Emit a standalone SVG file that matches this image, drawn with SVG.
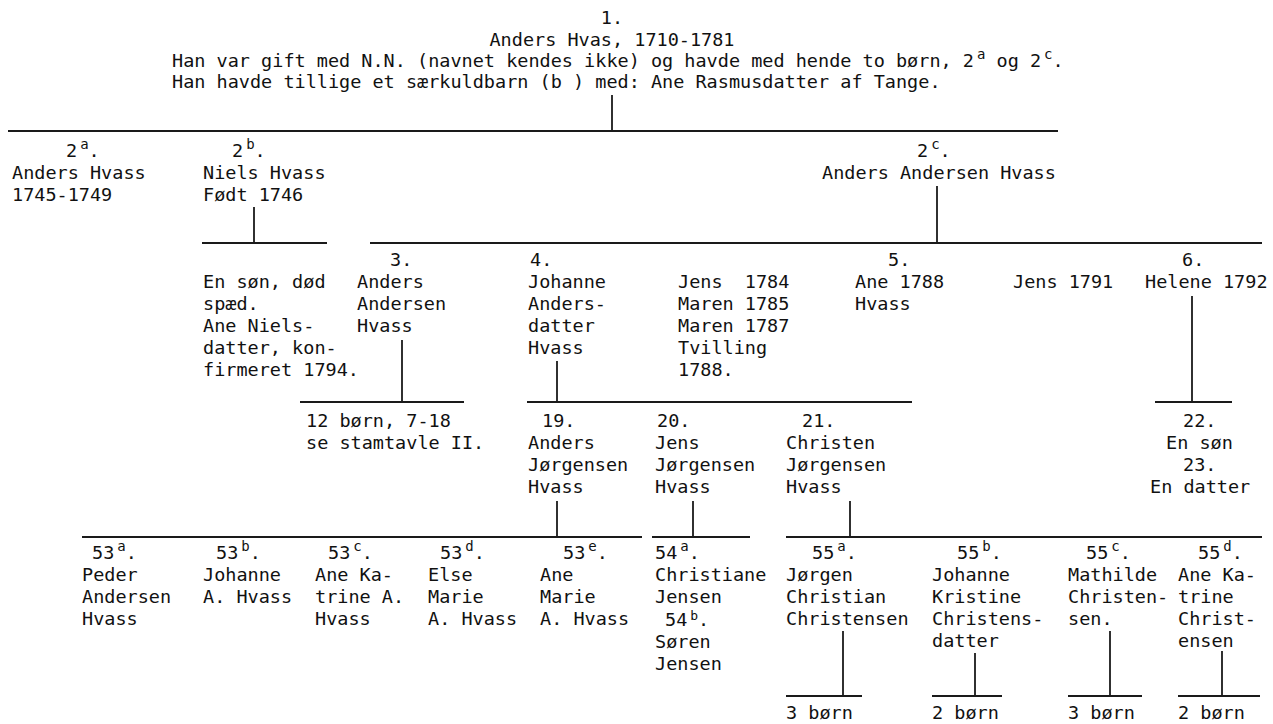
<svg xmlns="http://www.w3.org/2000/svg" width="1273" height="724" viewBox="0 0 1273 724">
<style>
text{font-family:"DejaVu Sans Mono","Liberation Mono",monospace;font-size:18.5px;fill:#111;white-space:pre}
.s{font-size:14px}
.s2{font-size:13px}
#connectors line{stroke:#1a1a1a;stroke-width:1.8}
</style>
<rect width="1273" height="724" fill="#fff"/>
<g id="connectors">
<line x1="612" y1="95" x2="612" y2="131"/>
<line x1="8" y1="131" x2="1058" y2="131"/>
<line x1="254" y1="207" x2="254" y2="243"/>
<line x1="202" y1="243" x2="327" y2="243"/>
<line x1="937" y1="186" x2="937" y2="243"/>
<line x1="370" y1="243" x2="1262" y2="243"/>
<line x1="402" y1="340" x2="402" y2="402"/>
<line x1="300" y1="402" x2="464" y2="402"/>
<line x1="557" y1="361" x2="557" y2="402"/>
<line x1="527" y1="402" x2="912" y2="402"/>
<line x1="1192" y1="296" x2="1192" y2="402"/>
<line x1="1155" y1="402" x2="1232" y2="402"/>
<line x1="557" y1="501" x2="557" y2="537"/>
<line x1="82" y1="537" x2="642" y2="537"/>
<line x1="693" y1="501" x2="693" y2="537"/>
<line x1="652" y1="537" x2="750" y2="537"/>
<line x1="850" y1="501" x2="850" y2="537"/>
<line x1="786" y1="537" x2="1262" y2="537"/>
<line x1="843" y1="631" x2="843" y2="696"/>
<line x1="786" y1="696" x2="862" y2="696"/>
<line x1="975" y1="653" x2="975" y2="696"/>
<line x1="932" y1="696" x2="1002" y2="696"/>
<line x1="1110" y1="631" x2="1110" y2="696"/>
<line x1="1068" y1="696" x2="1142" y2="696"/>
<line x1="1222" y1="651" x2="1222" y2="696"/>
<line x1="1178" y1="696" x2="1260" y2="696"/>
</g>
<g id="n1">
<text x="612" y="24" text-anchor="middle">1.</text>
<text x="612" y="46" text-anchor="middle">Anders Hvas, 1710-1781</text>
<text x="172" y="67">Han var gift med N.N. (navnet kendes ikke) og havde med hende to børn, 2<tspan class="s" dx="3" dy="-8">a</tspan><tspan dy="8"> og 2</tspan><tspan class="s" dx="3" dy="-8">c</tspan><tspan dy="8">.</tspan></text>
<text x="172" y="88">Han havde tillige et særkuldbarn (b ) med: Ane Rasmusdatter af Tange.</text>
</g>
<g id="n2a">
<text x="66" y="157">2<tspan class="s" dx="3" dy="-8">a</tspan><tspan dy="8">.</tspan></text>
<text x="12" y="179">Anders Hvass</text>
<text x="12" y="201">1745-1749</text>
</g>
<g id="n2b">
<text x="232" y="157">2<tspan class="s" dx="3" dy="-8">b</tspan><tspan dy="8">.</tspan></text>
<text x="203" y="179">Niels Hvass</text>
<text x="203" y="201">Født 1746</text>
</g>
<g id="n2c">
<text x="917" y="157">2<tspan class="s" dx="3" dy="-8">c</tspan><tspan dy="8">.</tspan></text>
<text x="822" y="179">Anders Andersen Hvass</text>
</g>
<g id="n2b-children">
<text x="203" y="288">En søn, død</text>
<text x="203" y="310">spæd.</text>
<text x="203" y="332">Ane Niels-</text>
<text x="203" y="354">datter, kon-</text>
<text x="203" y="376">firmeret 1794.</text>
</g>
<g id="n3">
<text x="390" y="266">3.</text>
<text x="357" y="288">Anders</text>
<text x="357" y="310">Andersen</text>
<text x="357" y="332">Hvass</text>
</g>
<g id="n4">
<text x="530" y="266">4.</text>
<text x="528" y="288">Johanne</text>
<text x="528" y="310">Anders-</text>
<text x="528" y="332">datter</text>
<text x="528" y="354">Hvass</text>
</g>
<g id="n-siblings">
<text x="678" y="288">Jens  1784</text>
<text x="678" y="310">Maren 1785</text>
<text x="678" y="332">Maren 1787</text>
<text x="678" y="354">Tvilling</text>
<text x="678" y="376">1788.</text>
</g>
<g id="n5">
<text x="888" y="266">5.</text>
<text x="855" y="288">Ane 1788</text>
<text x="855" y="310">Hvass</text>
</g>
<g id="n-jens1791">
<text x="1013" y="288">Jens 1791</text>
</g>
<g id="n6">
<text x="1182" y="266">6.</text>
<text x="1145" y="288">Helene 1792</text>
</g>
<g id="n3-children">
<text x="306" y="427">12 børn, 7-18</text>
<text x="306" y="449">se stamtavle II.</text>
</g>
<g id="n19">
<text x="542" y="427">19.</text>
<text x="528" y="449">Anders</text>
<text x="528" y="471">Jørgensen</text>
<text x="528" y="493">Hvass</text>
</g>
<g id="n20">
<text x="657" y="427">20.</text>
<text x="655" y="449">Jens</text>
<text x="655" y="471">Jørgensen</text>
<text x="655" y="493">Hvass</text>
</g>
<g id="n21">
<text x="802" y="427">21.</text>
<text x="786" y="449">Christen</text>
<text x="786" y="471">Jørgensen</text>
<text x="786" y="493">Hvass</text>
</g>
<g id="n22-23">
<text x="1183" y="427">22.</text>
<text x="1166" y="449">En søn</text>
<text x="1183" y="471">23.</text>
<text x="1150" y="493">En datter</text>
</g>
<g id="n53a">
<text x="92" y="559">53<tspan class="s" dx="3" dy="-8">a</tspan><tspan dy="8">.</tspan></text>
<text x="82" y="581">Peder</text>
<text x="82" y="603">Andersen</text>
<text x="82" y="625">Hvass</text>
</g>
<g id="n53b">
<text x="216" y="559">53<tspan class="s" dx="3" dy="-8">b</tspan><tspan dy="8">.</tspan></text>
<text x="203" y="581">Johanne</text>
<text x="203" y="603">A. Hvass</text>
</g>
<g id="n53c">
<text x="328" y="559">53<tspan class="s" dx="3" dy="-8">c</tspan><tspan dy="8">.</tspan></text>
<text x="315" y="581">Ane Ka-</text>
<text x="315" y="603">trine A.</text>
<text x="315" y="625">Hvass</text>
</g>
<g id="n53d">
<text x="440" y="559">53<tspan class="s" dx="3" dy="-8">d</tspan><tspan dy="8">.</tspan></text>
<text x="428" y="581">Else</text>
<text x="428" y="603">Marie</text>
<text x="428" y="625">A. Hvass</text>
</g>
<g id="n53e">
<text x="563" y="559">53<tspan class="s" dx="3" dy="-8">e</tspan><tspan dy="8">.</tspan></text>
<text x="540" y="581">Ane</text>
<text x="540" y="603">Marie</text>
<text x="540" y="625">A. Hvass</text>
</g>
<g id="n54">
<text x="655" y="559">54<tspan class="s" dx="3" dy="-8">a</tspan><tspan dy="8">.</tspan></text>
<text x="655" y="581">Christiane</text>
<text x="655" y="603">Jensen</text>
<text x="665" y="626">54<tspan class="s2" dx="3" dy="-6">b</tspan><tspan dy="6">.</tspan></text>
<text x="655" y="648">Søren</text>
<text x="655" y="670">Jensen</text>
</g>
<g id="n55a">
<text x="812" y="559">55<tspan class="s" dx="3" dy="-8">a</tspan><tspan dy="8">.</tspan></text>
<text x="786" y="581">Jørgen</text>
<text x="786" y="603">Christian</text>
<text x="786" y="625">Christensen</text>
</g>
<g id="n55b">
<text x="957" y="559">55<tspan class="s" dx="3" dy="-8">b</tspan><tspan dy="8">.</tspan></text>
<text x="932" y="581">Johanne</text>
<text x="932" y="603">Kristine</text>
<text x="932" y="625">Christens-</text>
<text x="932" y="647">datter</text>
</g>
<g id="n55c">
<text x="1086" y="559">55<tspan class="s" dx="3" dy="-8">c</tspan><tspan dy="8">.</tspan></text>
<text x="1068" y="581">Mathilde</text>
<text x="1068" y="603">Christen-</text>
<text x="1068" y="625">sen.</text>
</g>
<g id="n55d">
<text x="1198" y="559">55<tspan class="s" dx="3" dy="-8">d</tspan><tspan dy="8">.</tspan></text>
<text x="1178" y="581">Ane Ka-</text>
<text x="1178" y="603">trine</text>
<text x="1178" y="625">Christ-</text>
<text x="1178" y="647">ensen</text>
</g>
<g id="n55a-children"><text x="786" y="719">3 børn</text></g>
<g id="n55b-children"><text x="932" y="719">2 børn</text></g>
<g id="n55c-children"><text x="1068" y="719">3 børn</text></g>
<g id="n55d-children"><text x="1178" y="719">2 børn</text></g>
</svg>
